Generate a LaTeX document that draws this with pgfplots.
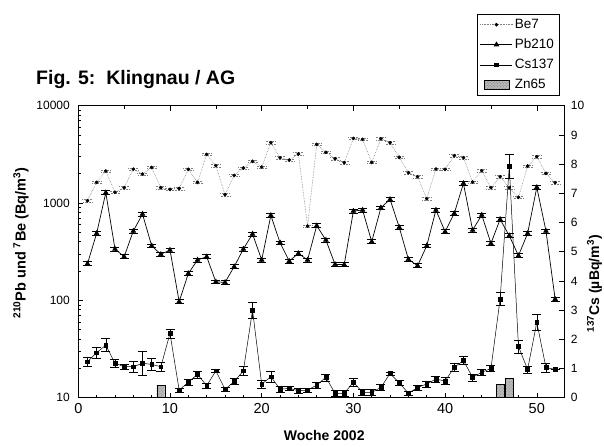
\documentclass[border=0pt]{standalone}
\usepackage{pgfplots}
\pgfplotsset{compat=1.18}
\usepackage{fontspec}
\setmainfont{Liberation Sans}
\usetikzlibrary{patterns}

\begin{document}
\begin{tikzpicture}[x=1bp,y=1bp]
\path[use as bounding box] (0,0) rectangle (604,447);
\node[anchor=base west, font=\bfseries\fontsize{19.5bp}{21bp}\selectfont, inner sep=0] at (36,362) {Fig. 5:\ \ Klingnau / AG};

\begin{axis}[
  at={(78.3bp,49.3bp)}, anchor=south west, scale only axis,
  width=486bp, height=292bp,
  xmin=0, xmax=53, ymode=log, ymin=10, ymax=10000,
  xtick={0,10,...,50}, minor x tick num=4,
  xtick pos=left, ytick pos=left,
  ytick={10,100,1000,10000}, yticklabels={10,100,1000,10000},
  major tick length=5bp, minor tick length=3bp,
  tick style={black, line width=0.6pt},
  axis line style={line width=0.8pt},
  /pgf/number format/assume math mode=true,
  xticklabel style={font=\fontsize{14.5bp}{16bp}\selectfont, yshift=-2bp},
  yticklabel style={font=\fontsize{12bp}{13bp}\selectfont, xshift=-5bp},
  xlabel={Woche 2002},
  ylabel={\textsuperscript{210}Pb und \textsuperscript{7}Be (Bq/m\textsuperscript{3})},
  every axis x label/.style={at={(axis description cs:0.506,-0.128)}, anchor=center, font=\bfseries\fontsize{14bp}{15bp}\selectfont},
  every axis y label/.style={at={(axis description cs:-0.118,0.53)}, anchor=center, rotate=90, font=\bfseries\fontsize{14.5bp}{15bp}\selectfont},
]
% Be7
\addplot[densely dotted, gray, line width=0.6pt, mark=*, mark size=1.5bp, mark options={solid, black},
  error bars/.cd, y dir=both, y fixed relative=0.03,
  error bar style={gray, densely dotted, line width=0.5pt},
  error mark options={rotate=90, mark size=5bp, gray, densely dotted, line width=0.5pt}]
coordinates {
(1,1057) (2,1630) (3,2130) (4,1290) (5,1437) (6,2230) (7,1985) (8,2320) (9,1437) (10,1380)
(11,1410) (12,2220) (13,1630) (14,3160) (15,2420) (16,1218) (17,1924) (18,2290) (19,2680) (20,2344)
(21,4170) (22,2920) (23,2766) (24,3190) (25,580) (26,4000) (27,3320) (28,2853) (29,2597) (30,4617)
(31,4508) (32,2617) (33,4570) (34,4168) (35,2945) (36,2050) (37,1865) (38,1108) (39,2236) (40,2220)
(41,3064) (42,2923) (43,1643) (44,2148) (45,1437) (46,1865) (47,1437) (48,1144) (49,2399) (50,2992)
(51,2018) (52,1618)
};
% Pb210
\addplot[black, line width=0.7pt, mark=triangle*, mark size=2.6bp, mark options={solid},
  error bars/.cd, y dir=both, y fixed relative=0.045,
  error bar style={black, line width=0.6pt},
  error mark options={rotate=90, mark size=4.5bp, line width=0.7pt}]
coordinates {
(1,238) (2,488) (3,1277) (4,337) (5,281) (6,516) (7,771) (8,364) (9,297) (10,329)
(11,97) (12,189) (13,260) (14,281) (15,155) (16,153) (17,222) (18,337) (19,481) (20,260)
(21,747) (22,391) (23,253) (24,304) (25,260) (26,585) (27,417) (28,234) (29,233) (30,827)
(31,847) (32,401) (33,895) (34,1091) (35,562) (36,264) (37,227) (38,364) (39,847) (40,508)
(41,783) (42,1592) (43,528) (44,753) (45,385) (46,680) (47,462) (48,288) (49,488) (50,1449)
(51,516) (52,103)
};
\end{axis}

\begin{axis}[
  at={(78.3bp,49.3bp)}, anchor=south west, scale only axis,
  width=486bp, height=292bp,
  xmin=0, xmax=53, ymin=0, ymax=10,
  xtick={0,10,...,50}, minor xtick={5,15,...,45}, xticklabels={},
  xtick pos=right, ytick pos=right, yticklabel pos=right,
  ytick={0,1,...,10},
  major tick length=5bp, minor tick length=3bp,
  tick style={black, line width=0.6pt},
  axis line style={line width=0.8pt},
  /pgf/number format/assume math mode=true,
  yticklabel style={font=\fontsize{12bp}{13bp}\selectfont, xshift=3bp},
  ylabel={\textsuperscript{137}Cs (µBq/m\textsuperscript{3})},
  every axis y label/.style={at={(axis description cs:1.062,0.39)}, anchor=center, rotate=90, font=\bfseries\fontsize{14bp}{15bp}\selectfont},
  legend style={at={(axis description cs:0.820,1.314)}, anchor=north west, draw=black, line width=0.6pt,
    font=\fontsize{13.5bp}{15bp}\selectfont, row sep=5bp, inner xsep=3bp, inner ysep=3bp},
  legend cell align=left,
  legend image code/.code={\draw[mark repeat=2,mark phase=2,#1] plot coordinates {(0bp,0bp) (16bp,0bp) (32bp,0bp)};},
  legend entries={Be7,Pb210,Cs137,Zn65},
]
\addlegendimage{densely dotted, gray, line width=0.6pt, mark=*, mark size=1.5bp, mark options={solid, black}}
\addlegendimage{black, line width=0.7pt, mark=triangle*, mark size=2.6bp, mark options={solid}}
% Cs137
\addplot[black, line width=0.5pt, mark=square*, mark size=1.9bp,
  error bars/.cd, y dir=both, y explicit,
  error bar style={black, line width=0.5pt},
  error mark options={rotate=90, mark size=4.5bp, line width=0.5pt}]
coordinates {
(1,1.23) +- (0,0.15) (2,1.54) +- (0,0.18) (3,1.80) +- (0,0.22) (4,1.18) +- (0,0.15)
(5,1.06) +- (0,0.10) (6,1.06) +- (0,0.20) (7,1.18) +- (0,0.40) (8,1.14) +- (0,0.20)
(9,1.06) +- (0,0.15) (10,2.20) +- (0,0.15) (11,0.26) +- (0,0.08) (12,0.53) +- (0,0.10)
(13,0.80) +- (0,0.12) (14,0.41) +- (0,0.10) (15,0.92) +- (0,0.05) (16,0.29) +- (0,0.08)
(17,0.55) +- (0,0.10) (18,0.92) +- (0,0.15) (19,3.00) +- (0,0.28) (20,0.46) +- (0,0.15)
(21,0.72) +- (0,0.20) (22,0.29) +- (0,0.10) (23,0.32) +- (0,0.08) (24,0.24) +- (0,0.08)
(25,0.26) +- (0,0.08) (26,0.43) +- (0,0.10) (27,0.70) +- (0,0.12) (28,0.15) +- (0,0.10)
(29,0.15) +- (0,0.10) (30,0.53) +- (0,0.15) (31,0.18) +- (0,0.10) (32,0.18) +- (0,0.10)
(33,0.35) +- (0,0.10) (34,0.83) +- (0,0.05) (35,0.51) +- (0,0.10) (36,0.15) +- (0,0.08)
(37,0.35) +- (0,0.08) (38,0.47) +- (0,0.10) (39,0.64) +- (0,0.10) (40,0.57) +- (0,0.12)
(41,1.04) +- (0,0.13) (42,1.27) +- (0,0.14) (43,0.70) +- (0,0.12) (44,0.87) +- (0,0.10)
(45,1.00) +- (0,0.10) (46,3.38) +- (0,0.22) (47,7.93) +- (0,0.42) (48,1.75) +- (0,0.22)
(49,0.97) +- (0,0.12) (50,2.58) +- (0,0.28) (51,1.03) +- (0,0.15) (52,0.97) +- (0,0.00)
};
% Zn65
\addplot[ybar, bar width=0.85, fill=gray!55, draw=black, line width=0.4pt,
  postaction={pattern=crosshatch dots, pattern color=black!45},
  legend image code/.code={\draw[fill=gray!55, draw=black, line width=0.4pt, postaction={pattern=crosshatch dots, pattern color=black!45}] (4bp,-4.5bp) rectangle (29bp,4.5bp);}]
coordinates {(9,0.43) (46,0.46) (47,0.66)};
\end{axis}
\end{tikzpicture}
\end{document}
